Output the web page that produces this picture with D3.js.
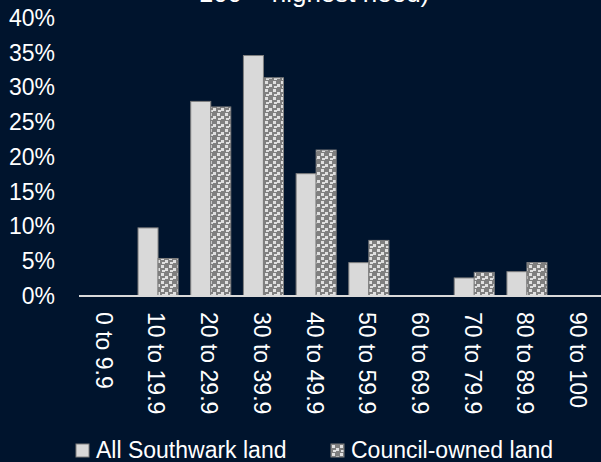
<!DOCTYPE html>
<html>
<head>
<meta charset="utf-8">
<script src="https://cdn.jsdelivr.net/npm/d3@7"></script>
<style>
  html, body { margin: 0; padding: 0; background: #00142d; }
  svg { display: block; font-family: "Liberation Sans", Arial, sans-serif; }
</style>
</head>
<body>
<svg id="chart" width="601" height="462"></svg>
<script>
// Share of land in each need-score band (0 = lowest, 100 = highest need)
const categories = ["0 to 9.9", "10 to 19.9", "20 to 29.9", "30 to 39.9", "40 to 49.9",
                    "50 to 59.9", "60 to 69.9", "70 to 79.9", "80 to 89.9", "90 to 100"];
const seriesNames = ["All Southwark land", "Council-owned land"];
const allLand     = [0, 9.8, 28.0, 34.6, 17.6, 4.8, 0, 2.6, 3.5, 0];
const councilLand = [0, 5.4, 27.2, 31.4, 21.0, 8.0, 0, 3.4, 4.8, 0];
const yTicks = [0, 5, 10, 15, 20, 25, 30, 35, 40];

const svg = d3.select("#chart");
const W = 601, H = 462;
const FONT = 23;
svg.append("rect").attr("width", W).attr("height", H).attr("fill", "#00142d");

// Checkered fill for the council-owned series
const defs = svg.append("defs");
const pat = defs.append("pattern")
  .attr("id", "checks").attr("patternUnits", "userSpaceOnUse")
  .attr("width", 8).attr("height", 8);
pat.append("rect").attr("width", 8).attr("height", 8).attr("fill", "#7f7f7f");
[[1, 1], [5, 4], [2, 6]].forEach(([cx, cy]) => {
  pat.append("rect").attr("x", cx).attr("y", cy).attr("width", 3).attr("height", 3).attr("fill", "#e0e0e0");
});

const plot = { left: 79, right: 606, top: 18, bottom: 296 };

const x = d3.scaleBand().domain(categories)
  .range([plot.left, plot.right]).paddingInner(0.24).paddingOuter(0.12);
const xs = d3.scaleBand().domain(seriesNames).range([0, x.bandwidth()]);
const y = d3.scaleLinear().domain([0, 40]).range([plot.bottom, plot.top]);

const fills = ["#d9d9d9", "url(#checks)"];
const data = [allLand, councilLand];

seriesNames.forEach((name, si) => {
  svg.append("g").selectAll("rect")
    .data(categories.map((c, i) => ({ c, v: data[si][i] })).filter(d => d.v > 0))
    .join("rect")
    .attr("x", d => x(d.c) + xs(name))
    .attr("y", d => y(d.v))
    .attr("width", xs.bandwidth())
    .attr("height", d => y(0) - y(d.v))
    .attr("fill", fills[si])
    .attr("stroke", "#7f7f7f")
    .attr("stroke-width", 1);
});

// Y axis labels (no line, no ticks)
const yAxis = d3.axisLeft(y).tickValues(yTicks).tickFormat(d => d + "%").tickSize(0).tickPadding(0);
const gy = svg.append("g").attr("transform", "translate(55,0)").call(yAxis);
gy.select(".domain").remove();
gy.selectAll("text").attr("fill", "#ffffff").attr("font-size", FONT)
  .attr("font-family", "Liberation Sans, Arial, sans-serif");

// Category axis line
svg.append("line")
  .attr("x1", plot.left).attr("x2", W)
  .attr("y1", y(0)).attr("y2", y(0))
  .attr("stroke", "#d9d9d9").attr("stroke-width", 2);

// Rotated category labels
svg.append("g").selectAll("text")
  .data(categories).join("text")
  .attr("transform", d => `translate(${x(d) + x.bandwidth() / 2 - 1.5},312) rotate(90)`)
  .attr("dy", "0.35em")
  .attr("text-anchor", "start")
  .attr("fill", "#ffffff").attr("font-size", FONT)
  .text(d => d);

// Title (second line, partly above the frame)
svg.append("text")
  .attr("x", 314).attr("y", 2)
  .attr("text-anchor", "middle")
  .attr("fill", "#ffffff").attr("font-size", 26)
  .text("100 = highest need)");

// Legend
const legend = [{ name: seriesNames[0], x: 76, fill: fills[0] }, { name: seriesNames[1], x: 331, fill: fills[1] }];
const lg = svg.append("g").selectAll("g").data(legend).join("g")
  .attr("transform", d => `translate(${d.x},444)`);
lg.append("rect").attr("width", 13).attr("height", 13)
  .attr("fill", d => d.fill).attr("stroke", "#7f7f7f").attr("stroke-width", 1);
lg.append("text").attr("x", 20).attr("y", 13.7)
  .attr("fill", "#ffffff").attr("font-size", FONT)
  .text(d => d.name);
</script>
</body>
</html>
